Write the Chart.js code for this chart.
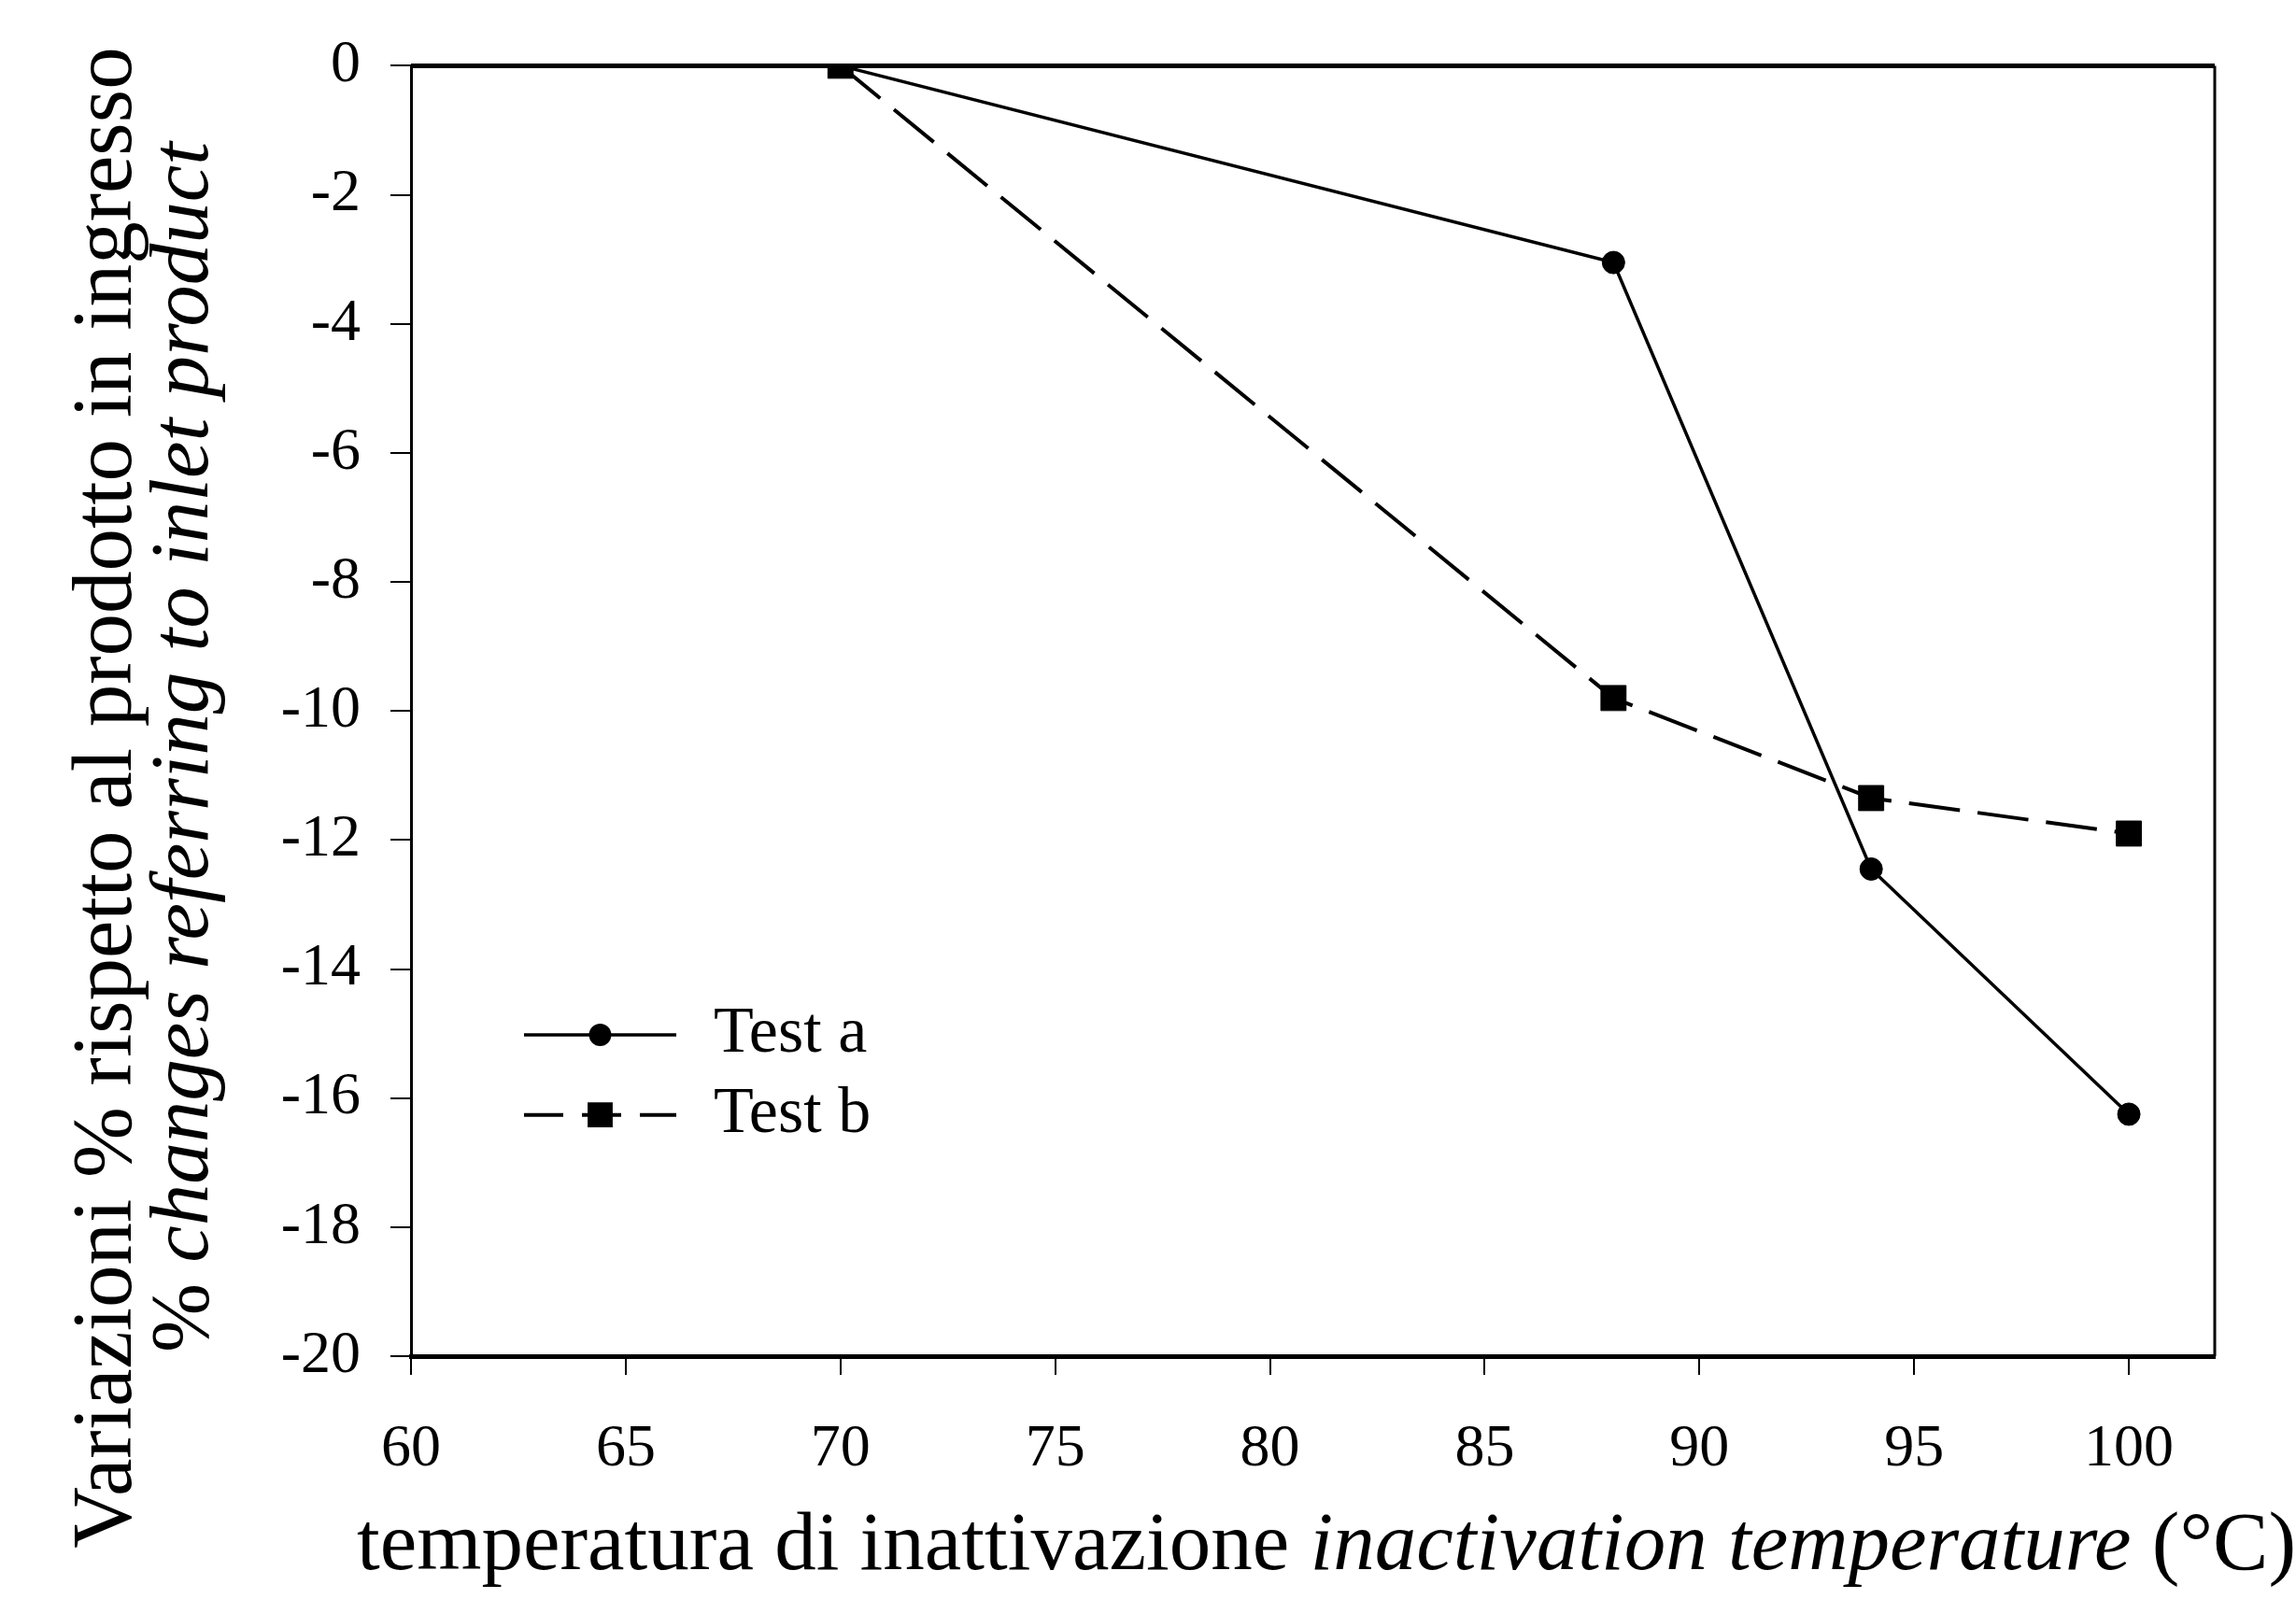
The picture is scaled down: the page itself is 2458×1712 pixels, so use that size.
<!DOCTYPE html>
<html>
<head>
<meta charset="utf-8">
<title>Variazioni % rispetto al prodotto in ingresso</title>
<script src="https://cdn.jsdelivr.net/npm/chart.js@4.4.0/dist/chart.umd.min.js"></script>
<style>
    html, body { margin: 0; padding: 0; background: #fff; }
    #wrap { width: 2458px; height: 1712px; }
</style>
</head>
<body>
<div id="wrap"><canvas id="myChart"></canvas></div>
<script>
// values
const temperature = [70, 88, 94, 100];
const testA = [0, -3.05, -12.45, -16.25];
const testB = [0, -9.8, -11.35, -11.9];
const seriesNames = ["Test a", "Test b"];

const xTicks = [60, 65, 70, 75, 80, 85, 90, 95, 100];
const yTicks = [0, -2, -4, -6, -8, -10, -12, -14, -16, -18, -20];

const xTitleParts = ["temperatura di inattivazione ", "inactivation temperature", " (°C)"];
const yTitleLine1 = "Variazioni % rispetto al prodotto in ingresso";
const yTitleLine2 = ["% ", "changes referring to inlet product"];

const serif = "'Liberation Serif', 'DejaVu Serif', serif";
let chart;

function toPoints(values) {
    return temperature.map((t, i) => ({ x: t, y: values[i] }));
}

// top and right side of the frame
const framePlugin = {
    id: 'frame',
    afterDatasetsDraw(c) {
        const a = c.chartArea;
        const ctx = c.ctx;
        ctx.save();
        ctx.strokeStyle = '#000';
        ctx.lineWidth = 5;
        ctx.beginPath();
        ctx.moveTo(a.left, a.top);
        ctx.lineTo(a.right, a.top);
        ctx.stroke();
        ctx.lineWidth = 3;
        ctx.beginPath();
        ctx.moveTo(a.right, a.top);
        ctx.lineTo(a.right, a.bottom);
        ctx.stroke();
        ctx.restore();
    }
};

// axis titles mix roman and italic, so they are drawn here
const titlesPlugin = {
    id: 'titles',
    afterDraw(c) {
        const ctx = c.ctx;
        const size = 89;
        ctx.save();
        ctx.fillStyle = '#000';
        ctx.textBaseline = 'alphabetic';

        const fonts = [`${size}px ${serif}`, `italic ${size}px ${serif}`, `${size}px ${serif}`];
        let total = 0;
        const widths = xTitleParts.map((p, i) => {
            ctx.font = fonts[i];
            const w = ctx.measureText(p).width;
            total += w;
            return w;
        });
        let x = 1420 - total / 2;
        ctx.textAlign = 'left';
        xTitleParts.forEach((p, i) => {
            ctx.font = fonts[i];
            ctx.fillText(p, x, 1680);
            x += widths[i];
        });

        // y title, two lines rotated
        ctx.save();
        ctx.translate(116, 854);
        ctx.rotate(-Math.PI / 2);
        ctx.font = `${size + 2}px ${serif}`;
        ctx.textAlign = 'center';
        ctx.textBaseline = 'middle';
        ctx.fillText(yTitleLine1, 0, 0);
        ctx.restore();

        ctx.save();
        ctx.translate(199, 800);
        ctx.rotate(-Math.PI / 2);
        ctx.textBaseline = 'middle';
        ctx.textAlign = 'left';
        ctx.font = `${size}px ${serif}`;
        const w0 = ctx.measureText(yTitleLine2[0]).width;
        ctx.font = `italic ${size}px ${serif}`;
        const w1 = ctx.measureText(yTitleLine2[1]).width;
        const sx = -(w0 + w1) / 2;
        ctx.font = `${size}px ${serif}`;
        ctx.fillText(yTitleLine2[0], sx, 0);
        ctx.font = `italic ${size}px ${serif}`;
        ctx.fillText(yTitleLine2[1], sx + w0, 0);
        ctx.restore();

        ctx.restore();
    }
};

// legend sits inside the plot, lower left
const legendPlugin = {
    id: 'innerLegend',
    afterDatasetsDraw(c) {
        const a = c.chartArea;
        const ctx = c.ctx;
        const x0 = a.left + 121;
        const lineLen = 163;
        ctx.save();
        c.data.datasets.forEach((ds, i) => {
            const y = a.top + (a.bottom - a.top) * (0.751 + i * 0.062);
            ctx.strokeStyle = ds.borderColor;
            ctx.lineWidth = ds.borderWidth;
            ctx.setLineDash(ds.borderDash ? [42, 20] : []);
            ctx.beginPath();
            ctx.moveTo(x0, y);
            ctx.lineTo(x0 + lineLen, y);
            ctx.stroke();
            ctx.setLineDash([]);
            Chart.helpers.drawPoint(ctx, {
                pointStyle: ds.pointStyle,
                radius: ds.pointRadius * 0.85,
                rotation: 0,
                borderWidth: 1
            }, x0 + lineLen / 2, y);
            ctx.fillStyle = '#000';
            ctx.fill();
            ctx.font = `70px ${serif}`;
            ctx.textAlign = 'left';
            ctx.textBaseline = 'middle';
            ctx.fillText(ds.label, x0 + lineLen + 40, y);
        });
        ctx.restore();
    }
};

function drawChart() {
    const ctx = document.getElementById('myChart').getContext('2d');

    if (chart) {
        chart.destroy();
    }

    chart = new Chart(ctx, {
        type: 'line',
        data: {
            datasets: [{
                label: seriesNames[0],
                data: toPoints(testA),
                borderColor: '#000',
                backgroundColor: '#000',
                borderWidth: 3.5,
                pointStyle: 'circle',
                pointRadius: 12,
                pointBorderWidth: 1,
                pointBorderColor: '#000',
                pointBackgroundColor: '#000',
                fill: false
            }, {
                label: seriesNames[1],
                data: toPoints(testB),
                borderColor: '#000',
                backgroundColor: '#000',
                borderWidth: 4,
                borderDash: [55, 19],
                pointStyle: 'rect',
                pointRadius: 19,
                pointBorderWidth: 1,
                pointBorderColor: '#000',
                pointBackgroundColor: '#000',
                fill: false
            }]
        },
        options: {
            responsive: true,
            maintainAspectRatio: false,
            animation: false,
            layout: {
                padding: { left: 0, top: 57, right: 87, bottom: 0 }
            },
            plugins: {
                legend: { display: false },
                tooltip: { enabled: false }
            },
            scales: {
                x: {
                    type: 'linear',
                    min: 60,
                    max: 102,
                    afterBuildTicks: s => { s.ticks = xTicks.map(v => ({ value: v })); },
                    afterFit: s => { s.height = 260; },
                    ticks: {
                        color: '#000',
                        font: { family: serif, size: 64 },
                        padding: 42,
                        maxRotation: 0,
                        autoSkip: false
                    },
                    grid: {
                        drawOnChartArea: false,
                        drawTicks: true,
                        tickLength: 20,
                        color: '#000',
                        lineWidth: 2
                    },
                    border: { color: '#000', width: 5 }
                },
                y: {
                    min: -20,
                    max: 0,
                    afterBuildTicks: s => { s.ticks = yTicks.map(v => ({ value: v })); },
                    afterFit: s => { s.width = 440; },
                    ticks: {
                        color: '#000',
                        font: { family: serif, size: 64 },
                        padding: 32,
                        autoSkip: false
                    },
                    grid: {
                        drawOnChartArea: false,
                        drawTicks: true,
                        tickLength: 22,
                        color: '#000',
                        lineWidth: 2
                    },
                    border: { color: '#000', width: 3 }
                }
            }
        },
        plugins: [framePlugin, legendPlugin, titlesPlugin]
    });
}

drawChart();
</script>
</body>
</html>
